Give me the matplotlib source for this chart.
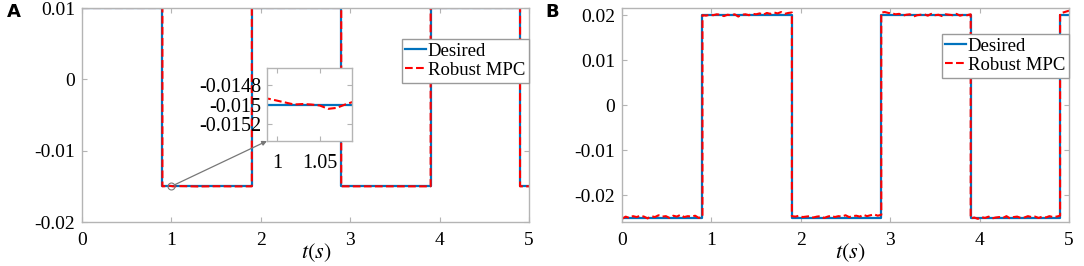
#!/usr/bin/env python3
"""Square-wave tracking: desired vs robust MPC (panels A and B)."""

import numpy as np
import matplotlib

matplotlib.use("Agg")
import matplotlib.pyplot as plt

plt.rcParams.update(
    {
        "font.family": "serif",
        "font.serif": ["Liberation Serif", "DejaVu Serif"],
        "font.size": 14,
        "mathtext.fontset": "stix",
        "axes.unicode_minus": False,
        "axes.edgecolor": "#b4b4b4",
        "axes.linewidth": 1.0,
        "xtick.direction": "in",
        "ytick.direction": "in",
        "xtick.color": "#b4b4b4",
        "ytick.color": "#b4b4b4",
        "xtick.labelcolor": "black",
        "ytick.labelcolor": "black",
        "xtick.major.size": 3.5,
        "ytick.major.size": 3.5,
        "xtick.major.pad": 7.5,
        "ytick.major.pad": 5,
        "xtick.top": True,
        "ytick.right": True,
        "legend.fontsize": 13.5,
    }
)

BLUE = "#0072BD"
RED = "#FF0000"
SERIF = "Liberation Serif"

# switching instants and levels of the reference square wave
switch_t = [0.0, 0.9, 1.9, 2.9, 3.9, 4.9, 5.0]
levels_a = [0.01, -0.015, 0.01, -0.015, 0.01, -0.015]
levels_b = [-0.025, 0.02, -0.025, 0.02, -0.025, 0.02]

# panel A: robust MPC deviation around t = 1 s (inside segment 2), units of 1e-5
mpc_a_t = [0.9, 0.95, 0.98, 0.99, 1.0, 1.01, 1.02, 1.03, 1.04, 1.05, 1.06,
           1.07, 1.08, 1.09, 1.15, 1.3, 1.5, 1.7, 1.9]
mpc_a_dev = [0.0, 4.0, 6.0, 6.0, 4.0, 2.0, 0.0, 0.5, 0.0, -1.0, -4.5,
             -3.5, 0.0, 3.0, 2.0, -2.0, 1.5, -1.0, 0.0]

# panel B: robust MPC deviation per segment, units of 1e-4
mpc_b_dev = [
    [-3, 2, -1, 3, 1, 4, 2, -2, 3, 1, 5, 2, 3, -1, 4, 2, 6, 1, 3, 2, 4, -1, 2],
    [0, -1, 1, 0, 2, 1, -2, 1, 0, 2, -3, 1, 2, 0, 3, 2, 4, 1, 5, 3, 6, 4, 7, 3, 5, 6],
    [3, 2, 4, 1, 2, 3, 0, 2, 3, -1, 2, 4, 1, 3, 2, 5, 1, 3, 4, 2, 6, 3, 5, 7, 4, 6],
    [6, 7, 5, 4, 2, 3, -1, 1, 2, -3, 0, 1, 2, -1, 3, 0, 1, -2, 2, 1, 0, 3, -1, 1, 0, 2],
    [-2, 0, -3, 1, -1, 2, -2, 0, 1, -1, 3, -2, 1, 2, -1, 0, 3, 1, 2, -1, 2, 0, 3, 1, 2, 4],
    [4, 6, 8, 10],
]


def step_series(levels):
    t, y = [], []
    for i, lv in enumerate(levels):
        t += [switch_t[i], switch_t[i + 1]]
        y += [lv, lv]
    return np.array(t), np.array(y)


def add_legend(ax, top):
    ax.legend(["Desired", "Robust MPC"], loc="upper right", bbox_to_anchor=(1.0, top),
              fancybox=False, edgecolor="#9a9a9a", framealpha=1, handlelength=1.1,
              handletextpad=0.1, borderpad=0.2, labelspacing=0.1, borderaxespad=0)


def serif_ticks(ax, size=14):
    for lbl in ax.get_xticklabels() + ax.get_yticklabels():
        lbl.set_fontfamily(SERIF)
        lbl.set_fontsize(size)


fig = plt.figure(figsize=(10.84, 2.66), dpi=100)
ax_a = fig.add_axes([0.0756, 0.1654, 0.4124, 0.8045])
ax_b = fig.add_axes([0.5738, 0.1654, 0.4124, 0.8045])

# ---------------- Panel A ----------------
t_des, y_des = step_series(levels_a)
ax_a.plot(t_des, y_des, color=BLUE, lw=1.6)

t_mpc, y_mpc = [], []
for i, lv in enumerate(levels_a):
    if i == 1:
        t_mpc += mpc_a_t
        y_mpc += [lv + d * 1e-5 for d in mpc_a_dev]
    else:
        t_mpc += [switch_t[i], switch_t[i + 1]]
        y_mpc += [lv, lv]
ax_a.plot(t_mpc, y_mpc, color=RED, lw=1.5, ls="--")

ax_a.set_xlim(0, 5)
ax_a.set_ylim(-0.02, 0.01)
ax_a.set_xticks([0, 1, 2, 3, 4, 5])
ax_a.set_xticklabels(["0", "1", "2", "3", "4", "5"])
ax_a.set_yticks([-0.02, -0.01, 0, 0.01])
ax_a.set_yticklabels(["-0.02", "-0.01", "0", "0.01"])
serif_ticks(ax_a)
ax_a.set_xlabel("$t(s)$", fontsize=16)
ax_a.xaxis.set_label_coords(0.524, -0.145)
ax_a.xaxis.label.set_va("center")
add_legend(ax_a, 0.855)

# inset zoom around t = 1 s
ins = fig.add_axes([0.2463, 0.4699, 0.0784, 0.2744])
ins.plot(t_des, y_des, color=BLUE, lw=1.6)
ins.plot(t_mpc, y_mpc, color=RED, lw=1.5, ls="--")
ins.set_xlim(0.988, 1.088)
ins.set_ylim(-0.01538, -0.01462)
ins.set_xticks([1, 1.05])
ins.set_xticklabels(["1", "1.05"])
ins.set_yticks([-0.0152, -0.015, -0.0148])
ins.set_yticklabels(["-0.0152", "-0.015", "-0.0148"])
serif_ticks(ins, 14.5)
ins.tick_params(axis="x", pad=9)
ins.tick_params(axis="y", pad=4)

ax_a.plot([1.0], [-0.015], "o", mfc="none", mec="#777777", ms=5, mew=0.8)
ax_a.annotate("", xy=(0, 0), xycoords=ins.transAxes, xytext=(1.0, -0.015),
              textcoords="data",
              arrowprops=dict(arrowstyle="-|>", color="#777777", lw=0.9,
                              mutation_scale=7, shrinkA=3, shrinkB=0))

# ---------------- Panel B ----------------
t_des, y_des = step_series(levels_b)
ax_b.plot(t_des, y_des, color=BLUE, lw=1.6)

t_mpc, y_mpc = [], []
for i, lv in enumerate(levels_b):
    dev = mpc_b_dev[i]
    ts = np.linspace(switch_t[i], switch_t[i + 1], len(dev))
    t_mpc += list(ts)
    y_mpc += [lv + d * 1e-4 for d in dev]
ax_b.plot(t_mpc, y_mpc, color=RED, lw=1.5, ls="--")

ax_b.set_xlim(0, 5)
ax_b.set_ylim(-0.026, 0.0216)
ax_b.set_xticks([0, 1, 2, 3, 4, 5])
ax_b.set_xticklabels(["0", "1", "2", "3", "4", "5"])
ax_b.set_yticks([-0.02, -0.01, 0, 0.01, 0.02])
ax_b.set_yticklabels(["-0.02", "-0.01", "0", "0.01", "0.02"])
serif_ticks(ax_b)
ax_b.set_xlabel("$t(s)$", fontsize=16)
ax_b.xaxis.set_label_coords(0.51, -0.145)
ax_b.xaxis.label.set_va("center")
add_legend(ax_b, 0.879)

fig.text(0.006, 0.955, "A", family="DejaVu Sans", weight="bold", fontsize=13, va="center")
fig.text(0.503, 0.955, "B", family="DejaVu Sans", weight="bold", fontsize=13, va="center")

fig.savefig("out.png", dpi=100, facecolor="white")
plt.close(fig)
